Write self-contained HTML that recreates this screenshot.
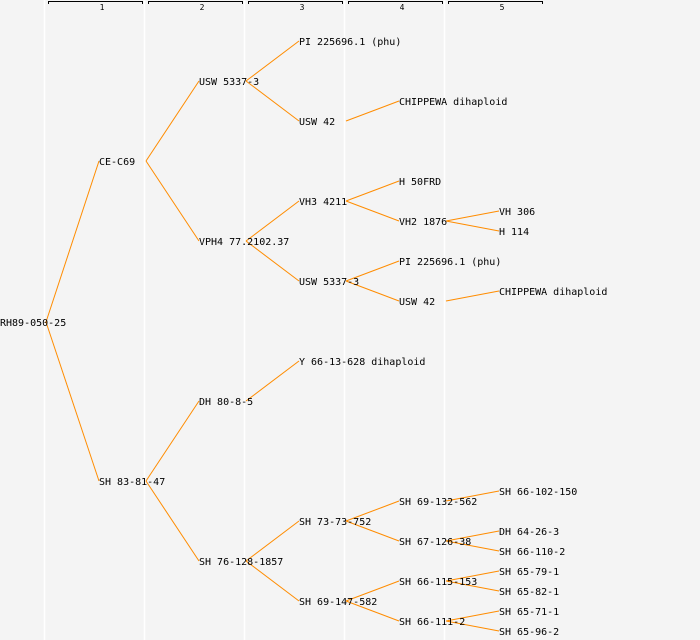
<!DOCTYPE html>
<html><head><meta charset="utf-8"><style>
html,body{margin:0;padding:0;background:#f4f4f4;}
svg{display:block;}
text{font-family:"DejaVu Sans Mono","Liberation Mono",monospace;font-size:10px;fill:#000;}
.n{font-size:8px;}
</style></head><body>
<svg width="700" height="640" viewBox="0 0 700 640" xmlns="http://www.w3.org/2000/svg">
<rect width="700" height="640" fill="#f4f4f4"/>
<g stroke="#fff" stroke-width="1.5">
<line x1="44.5" y1="0" x2="44.5" y2="640"/><line x1="144.5" y1="0" x2="144.5" y2="640"/>
<line x1="244.5" y1="0" x2="244.5" y2="640"/><line x1="344.5" y1="0" x2="344.5" y2="640"/>
<line x1="444.5" y1="0" x2="444.5" y2="640"/>
</g>
<g stroke="#000" stroke-width="1" fill="none">
<path d="M48.5 4V1.5H142.5V4"/><path d="M148.5 4V1.5H242.5V4"/><path d="M248.5 4V1.5H342.5V4"/>
<path d="M348.5 4V1.5H442.5V4"/><path d="M448.5 4V1.5H542.5V4"/>
</g>
<g text-anchor="middle">
<text class="n" x="102" y="10">1</text><text class="n" x="202" y="10">2</text><text class="n" x="302" y="10">3</text>
<text class="n" x="402" y="10">4</text><text class="n" x="502" y="10">5</text>
</g>
<g stroke="#ff8c00" stroke-width="1" fill="none">
<line x1="46" y1="322" x2="99" y2="161"/><line x1="46" y1="322" x2="99" y2="481"/>
<line x1="146" y1="161" x2="199" y2="81"/><line x1="146" y1="161" x2="199" y2="241"/>
<line x1="246" y1="81" x2="299" y2="41"/><line x1="246" y1="81" x2="299" y2="121"/>
<line x1="346" y1="121" x2="399" y2="101"/>
<line x1="246" y1="241" x2="299" y2="201"/><line x1="246" y1="241" x2="299" y2="281"/>
<line x1="346" y1="201" x2="399" y2="181"/><line x1="346" y1="201" x2="399" y2="221"/>
<line x1="446" y1="221" x2="499" y2="211"/><line x1="446" y1="221" x2="499" y2="231"/>
<line x1="346" y1="281" x2="399" y2="261"/><line x1="346" y1="281" x2="399" y2="301"/>
<line x1="446" y1="301" x2="499" y2="291"/>
<line x1="146" y1="481" x2="199" y2="401"/><line x1="146" y1="481" x2="199" y2="561"/>
<line x1="246" y1="401" x2="299" y2="361"/>
<line x1="246" y1="561" x2="299" y2="521"/><line x1="246" y1="561" x2="299" y2="601"/>
<line x1="346" y1="521" x2="399" y2="501"/><line x1="346" y1="521" x2="399" y2="541"/>
<line x1="446" y1="501" x2="499" y2="491"/>
<line x1="446" y1="541" x2="499" y2="531"/><line x1="446" y1="541" x2="499" y2="551"/>
<line x1="346" y1="601" x2="399" y2="581"/><line x1="346" y1="601" x2="399" y2="621"/>
<line x1="446" y1="581" x2="499" y2="571"/><line x1="446" y1="581" x2="499" y2="591"/>
<line x1="446" y1="621" x2="499" y2="611"/><line x1="446" y1="621" x2="499" y2="631"/>
</g>
<g transform="translate(0,4)">
<text x="0" y="322">RH89-050-25</text>
<text x="99" y="161">CE-C69</text>
<text x="199" y="81">USW 5337-3</text>
<text x="299" y="41">PI 225696.1 (phu)</text>
<text x="299" y="121">USW 42</text>
<text x="399" y="101">CHIPPEWA dihaploid</text>
<text x="199" y="241">VPH4 77.2102.37</text>
<text x="299" y="201">VH3 4211</text>
<text x="399" y="181">H 50FRD</text>
<text x="399" y="221">VH2 1876</text>
<text x="499" y="211">VH 306</text>
<text x="499" y="231">H 114</text>
<text x="299" y="281">USW 5337-3</text>
<text x="399" y="261">PI 225696.1 (phu)</text>
<text x="399" y="301">USW 42</text>
<text x="499" y="291">CHIPPEWA dihaploid</text>
<text x="99" y="481">SH 83-81-47</text>
<text x="199" y="401">DH 80-8-5</text>
<text x="299" y="361">Y 66-13-628 dihaploid</text>
<text x="199" y="561">SH 76-128-1857</text>
<text x="299" y="521">SH 73-73-752</text>
<text x="399" y="501">SH 69-132-562</text>
<text x="499" y="491">SH 66-102-150</text>
<text x="399" y="541">SH 67-126-38</text>
<text x="499" y="531">DH 64-26-3</text>
<text x="499" y="551">SH 66-110-2</text>
<text x="299" y="601">SH 69-147-582</text>
<text x="399" y="581">SH 66-115-153</text>
<text x="499" y="571">SH 65-79-1</text>
<text x="499" y="591">SH 65-82-1</text>
<text x="399" y="621">SH 66-111-2</text>
<text x="499" y="611">SH 65-71-1</text>
<text x="499" y="631">SH 65-96-2</text>
</g>
</svg>
</body></html>
